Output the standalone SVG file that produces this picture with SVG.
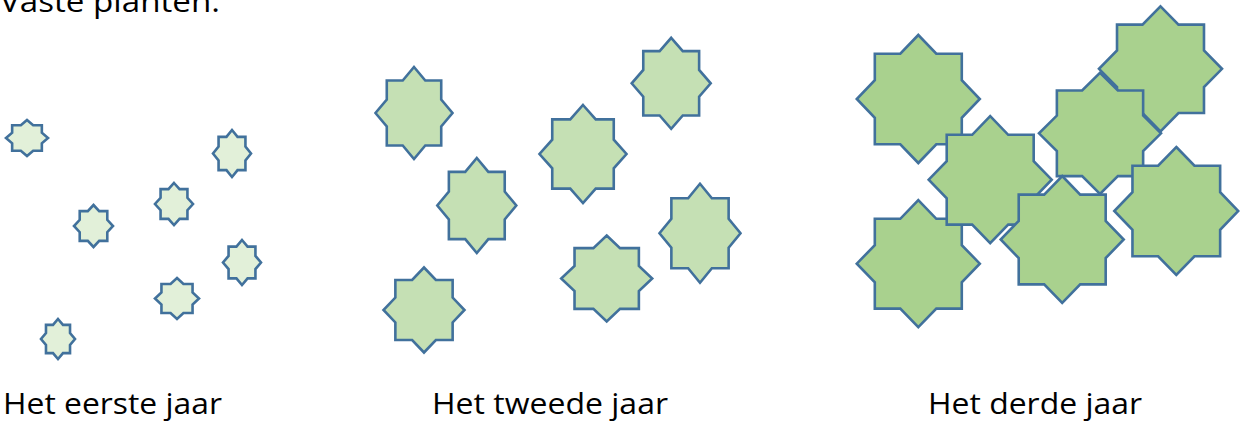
<svg xmlns="http://www.w3.org/2000/svg" xmlns:xlink="http://www.w3.org/1999/xlink" width="1240" height="423" viewBox="0 0 1240 423">
<style>
.lbl{font-family:"Open Sans","Liberation Sans",sans-serif;font-size:30px;fill:#000}
.y1{fill:#E2F0D9}
.y2{fill:#C5E0B4}
.y3{fill:#A9D18E}
</style>
<defs>
<polygon id="star8" points="0,-100 29.29,-70.71 70.71,-70.71 70.71,-29.29 100,0 70.71,29.29 70.71,70.71 29.29,70.71 0,100 -29.29,70.71 -70.71,70.71 -70.71,29.29 -100,0 -70.71,-29.29 -70.71,-70.71 -29.29,-70.71" stroke="#41719C" stroke-width="2.6" stroke-linejoin="miter" vector-effect="non-scaling-stroke"/>
</defs>
<rect width="1240" height="423" fill="#fff"/>
<text class="lbl" x="0" y="12" textLength="220" lengthAdjust="spacingAndGlyphs">Vaste planten.</text>
<g id="year1">
<g id="y1s1"><use href="#star8" class="y1" transform="translate(27,138) scale(0.21,0.18)"/></g>
<g id="y1s2"><use href="#star8" class="y1" transform="translate(232,153.5) scale(0.19,0.235)"/></g>
<g id="y1s3"><use href="#star8" class="y1" transform="translate(174,204) scale(0.19,0.21)"/></g>
<g id="y1s4"><use href="#star8" class="y1" transform="translate(93.5,226) scale(0.195,0.21)"/></g>
<g id="y1s5"><use href="#star8" class="y1" transform="translate(242,262.5) scale(0.19,0.225)"/></g>
<g id="y1s6"><use href="#star8" class="y1" transform="translate(177,298.5) scale(0.22,0.205)"/></g>
<g id="y1s7"><use href="#star8" class="y1" transform="translate(58,339) scale(0.17,0.2)"/></g>
</g>
<g id="year2">
<g id="y2s1"><use href="#star8" class="y2" transform="translate(414,113) scale(0.385,0.46)"/></g>
<g id="y2s2"><use href="#star8" class="y2" transform="translate(476.8,205.5) scale(0.395,0.475)"/></g>
<g id="y2s3"><use href="#star8" class="y2" transform="translate(424,310) scale(0.405,0.425)"/></g>
<g id="y2s4"><use href="#star8" class="y2" transform="translate(583,154) scale(0.435,0.49)"/></g>
<g id="y2s5"><use href="#star8" class="y2" transform="translate(671.2,83.3) scale(0.395,0.455)"/></g>
<g id="y2s6"><use href="#star8" class="y2" transform="translate(606.7,278.5) scale(0.455,0.43)"/></g>
<g id="y2s7"><use href="#star8" class="y2" transform="translate(700,233.3) scale(0.405,0.495)"/></g>
</g>
<g id="year3">
<g id="y3s1"><use href="#star8" class="y3" transform="translate(918.3,99) scale(0.615,0.64)"/></g>
<g id="y3s2"><use href="#star8" class="y3" transform="translate(918.3,263.7) scale(0.615,0.635)"/></g>
<g id="y3s3"><use href="#star8" class="y3" transform="translate(1160.5,68.8) scale(0.615,0.625)"/></g>
<g id="y3s4"><use href="#star8" class="y3" transform="translate(990.2,179.7) scale(0.615,0.635)"/></g>
<g id="y3s5"><use href="#star8" class="y3" transform="translate(1100,133.3) scale(0.61,0.605)"/></g>
<g id="y3s6"><use href="#star8" class="y3" transform="translate(1062.2,239.5) scale(0.615,0.635)"/></g>
<g id="y3s7"><use href="#star8" class="y3" transform="translate(1176.3,211) scale(0.62,0.64)"/></g>
</g>
<g id="labels">
<text class="lbl" x="3" y="414" textLength="219" lengthAdjust="spacingAndGlyphs">Het eerste jaar</text>
<text class="lbl" x="432" y="414" textLength="236" lengthAdjust="spacingAndGlyphs">Het tweede jaar</text>
<text class="lbl" x="928" y="414" textLength="214" lengthAdjust="spacingAndGlyphs">Het derde jaar</text>
</g>
</svg>
